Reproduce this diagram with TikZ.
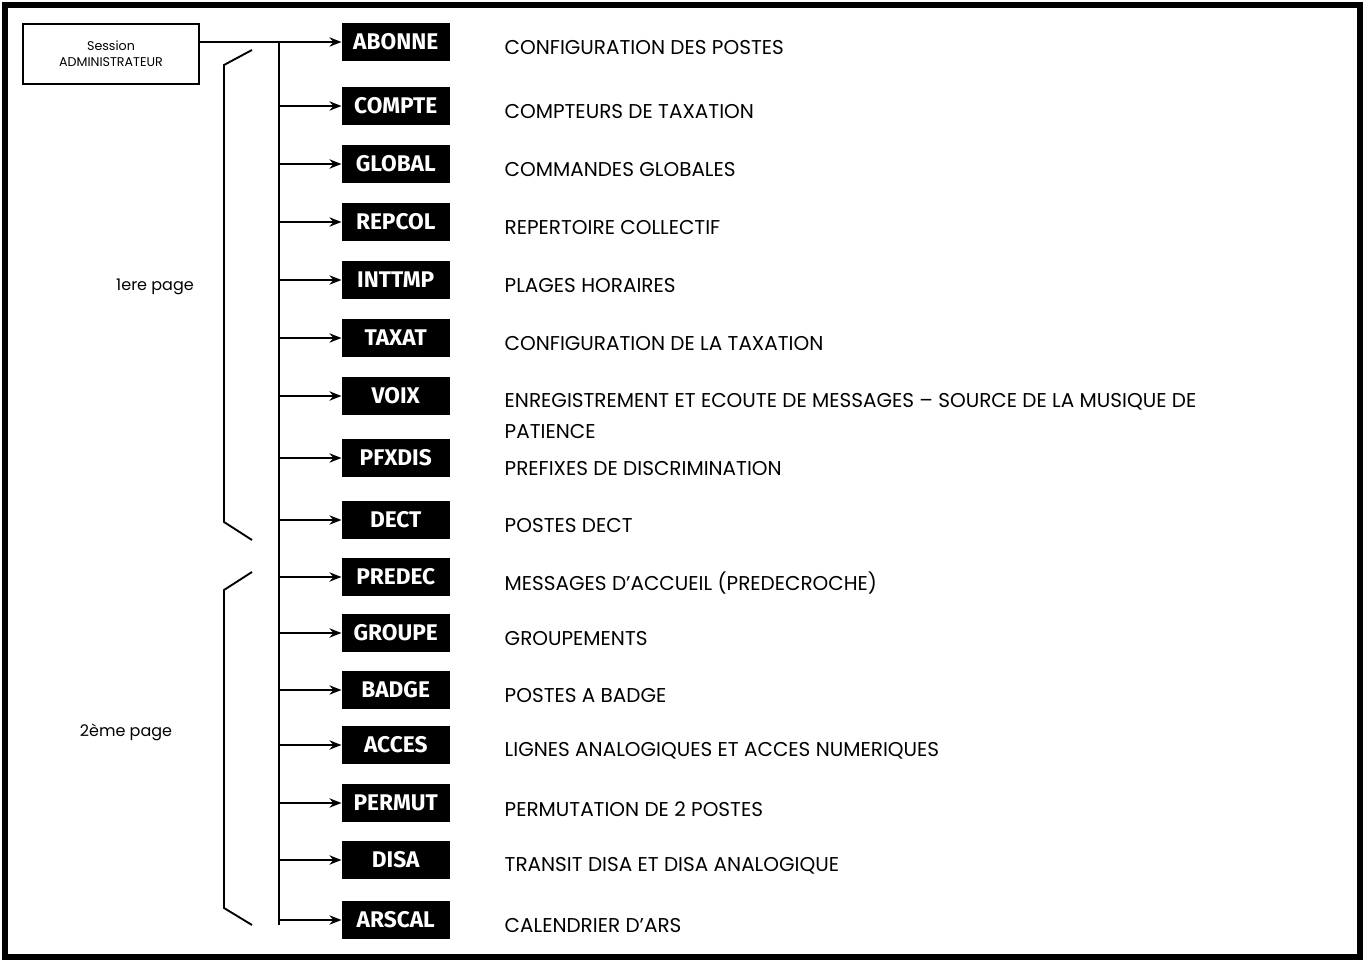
\documentclass[tikz,border=0pt]{standalone}
\usepackage{fontspec}
\usetikzlibrary{arrows.meta}
\setmainfont{Poppins}
\newfontfamily\labfont{Fira Sans}
\begin{document}
\begin{tikzpicture}[x=0.75pt,y=-0.75pt,
  lab/.style={fill=black,text=white,font=\labfont\bfseries\fontsize{17}{17}\selectfont,minimum height=28.5pt,minimum width=81pt,inner xsep=1pt,anchor=east},
  desc/.style={anchor=west,font=\fontsize{15}{23}\selectfont,align=left},
  arr/.style={-{Stealth[length=9pt,width=7pt]},line width=1.4pt},
  ln/.style={line width=1.4pt}]
\useasboundingbox (0,0) rectangle (1365,962);
\draw[line width=4pt] (5,5) rectangle (1360,957);
\node[draw,line width=2pt,minimum width=132pt,minimum height=45pt,align=center,font=\fontsize{9.5}{12}\selectfont] (s) at (111,54) {Session\\ADMINISTRATEUR};
\coordinate (t0) at (279,42);
\coordinate (t1) at (279,925);
\draw[ln] (s.east|-t0) -- (t0);
\draw[ln] (t0) -- (t1);
\foreach \n/\y/\d in {ABONNE/42/CONFIGURATION DES POSTES,COMPTE/106/COMPTEURS DE TAXATION,GLOBAL/164/COMMANDES GLOBALES,REPCOL/222/REPERTOIRE COLLECTIF,INTTMP/280/PLAGES HORAIRES,TAXAT/338/CONFIGURATION DE LA TAXATION,DECT/520/POSTES DECT,PREDEC/577/MESSAGES D’ACCUEIL (PREDECROCHE),GROUPE/633/GROUPEMENTS,BADGE/690/POSTES A BADGE,ACCES/745/LIGNES ANALOGIQUES ET ACCES NUMERIQUES,PERMUT/803/PERMUTATION DE 2 POSTES,DISA/860/TRANSIT DISA ET DISA ANALOGIQUE,ARSCAL/920/CALENDRIER D’ARS}{
  \node[lab] (b\n) at (450,\y) {\n};
  \coordinate (j\n) at (279,\y);
  \draw[arr] (j\n) -- (b\n.west);
  \node[desc] (d\n) at (500,\y+6) {\d};
}
\node[lab] (bVOIX) at (450,396) {VOIX};
\coordinate (jVOIX) at (279,396);
\draw[arr] (jVOIX) -- (bVOIX.west);
\node[desc] (dVOIX) at (500,416) {ENREGISTREMENT ET ECOUTE DE MESSAGES -- SOURCE DE LA MUSIQUE DE\\PATIENCE};
\node[lab] (bPFXDIS) at (450,458) {PFXDIS};
\coordinate (jPFXDIS) at (279,458);
\draw[arr] (jPFXDIS) -- (bPFXDIS.west);
\node[desc] (dPFXDIS) at (500,469) {PREFIXES DE DISCRIMINATION};
\draw[ln] (252,50) -- (224,65) -- (224,522) -- (252,540);
\draw[ln] (252,572) -- (224,590) -- (224,908) -- (252,925);
\node[font=\fontsize{12}{14}\selectfont] (p1) at (155,287) {1ere page};
\node[font=\fontsize{12}{14}\selectfont] (p2) at (126,732) {2ème page};
\end{tikzpicture}
\end{document}
